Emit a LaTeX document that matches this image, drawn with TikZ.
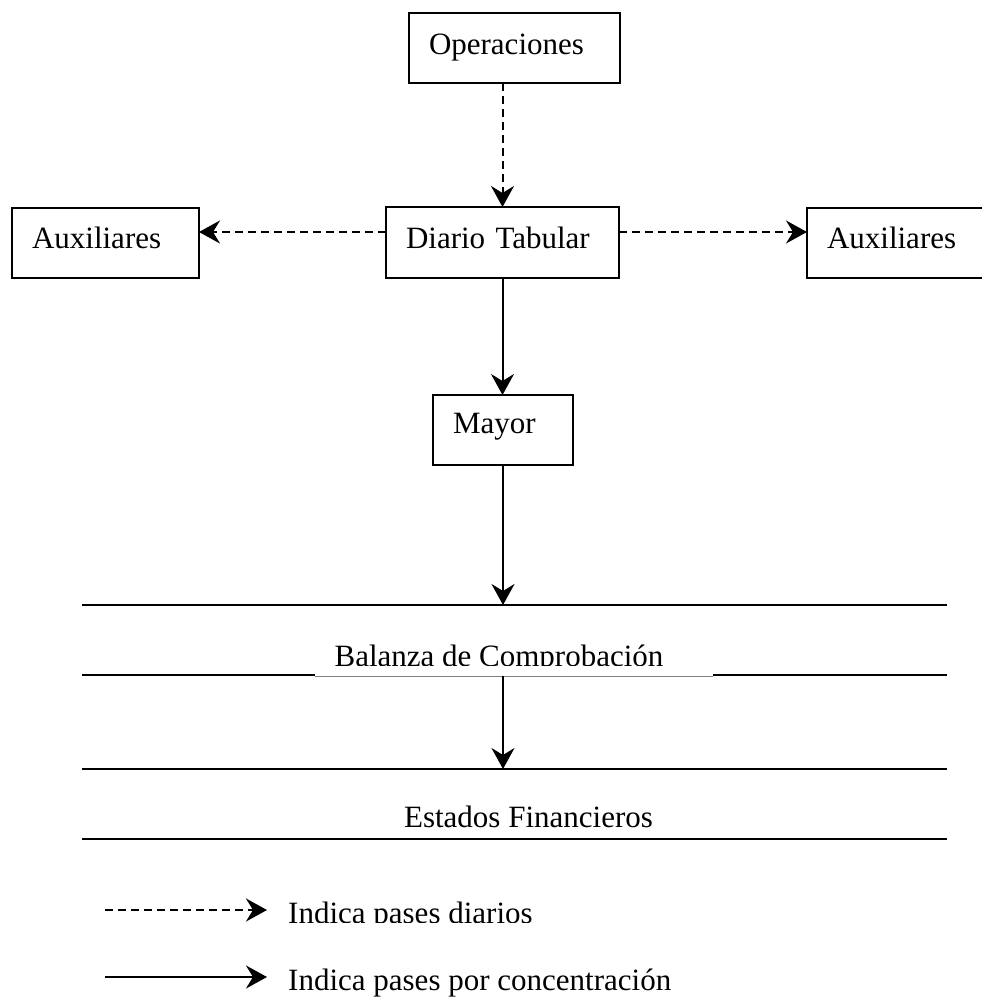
\documentclass[tikz,border=0pt]{standalone}
\usepackage{fontspec}
\setmainfont{Liberation Serif}
\usetikzlibrary{arrows.meta}
\tikzset{
 flowbox/.style={draw, line width=2pt, anchor=north west, align=left, inner xsep=20pt, inner ysep=0pt, outer sep=0pt, font=\fontsize{31}{31}\selectfont},
 arrowtip/.style={-{Stealth[length=21pt,width=23pt,inset=7pt]}},
 dasharrow/.style={arrowtip, line width=2pt, dash pattern=on 8pt off 5pt},
 solidarrow/.style={arrowtip, line width=2pt},
 hrule/.style={line width=2.6pt},
 lbl/.style={inner sep=0pt, anchor=base west, font=\fontsize{31}{31}\selectfont},
}
\begin{document}
\begin{tikzpicture}[x=1pt,y=-1pt]
\useasboundingbox (0,0) rectangle (982,1001);
% boxes
\node[flowbox, text width=171pt, minimum height=70pt, text height=23pt, text depth=11pt] (ope) at (409,13) {Operaciones};
\node[flowbox, text width=193pt, minimum height=71pt, text height=22pt, text depth=11pt] (diario) at (386,207) {Diario Tabular};
\node[flowbox, text width=147pt, minimum height=70pt, text height=21pt, text depth=11pt] (auxL) at (12,208) {Auxiliares};
\node[flowbox, text width=160pt, minimum height=70pt, text height=21pt, text depth=11pt] (auxR) at (807,208) {Auxiliares};
\node[flowbox, text width=100pt, minimum height=70pt, text height=20pt, text depth=14pt] (mayor) at (433,395) {Mayor};
% connectors
\draw[dasharrow] (ope.south -| diario.north) -- (diario.north);
\draw[dasharrow] ([yshift=10.5pt]diario.west) -- ([yshift=10.5pt]diario.west -| auxL.east);
\draw[dasharrow] ([yshift=10.5pt]diario.east) -- ([yshift=10.5pt]diario.east -| auxR.west);
\draw[solidarrow] (diario.south) -- (diario.south |- mayor.north);
\coordinate (t1) at (503,605);
\draw[solidarrow] (mayor.south) -- (t1);
% Balanza de Comprobacion
\draw[hrule] (82,605) -- (947,605);
\draw[hrule] (82,675) -- (315,675);
\draw[hrule] (713,675) -- (947,675);
\draw[line width=0.8pt, gray] (315,676) -- (713,676);
\begin{scope}
\clip (300,620) rectangle (730,665.5);
\node[lbl, anchor=base] (bal) at (499,666) {Balanza de Comprobación};
\end{scope}
\coordinate (t2a) at (503,676);
\coordinate (t2b) at (503,769);
\draw[solidarrow] (t2a) -- (t2b);
% Estados Financieros
\draw[hrule] (82,769) -- (947,769);
\node[lbl, anchor=base] (est) at (528.5,827) {Estados Financieros};
\draw[hrule] (82,839) -- (947,839);
% legend
\coordinate (lg1a) at (105,910);
\coordinate (lg1b) at (267,910);
\draw[dasharrow] (lg1a) -- (lg1b);
\begin{scope}
\clip (280,890) rectangle (560,922);
\node[lbl] (leg1) at (288,923) {Indica pases diarios};
\end{scope}
\coordinate (lg2a) at (105,977);
\coordinate (lg2b) at (267,977);
\draw[solidarrow] (lg2a) -- (lg2b);
\node[lbl] (leg2) at (288,990.5) {Indica pases por concentración};
\end{tikzpicture}
\end{document}
